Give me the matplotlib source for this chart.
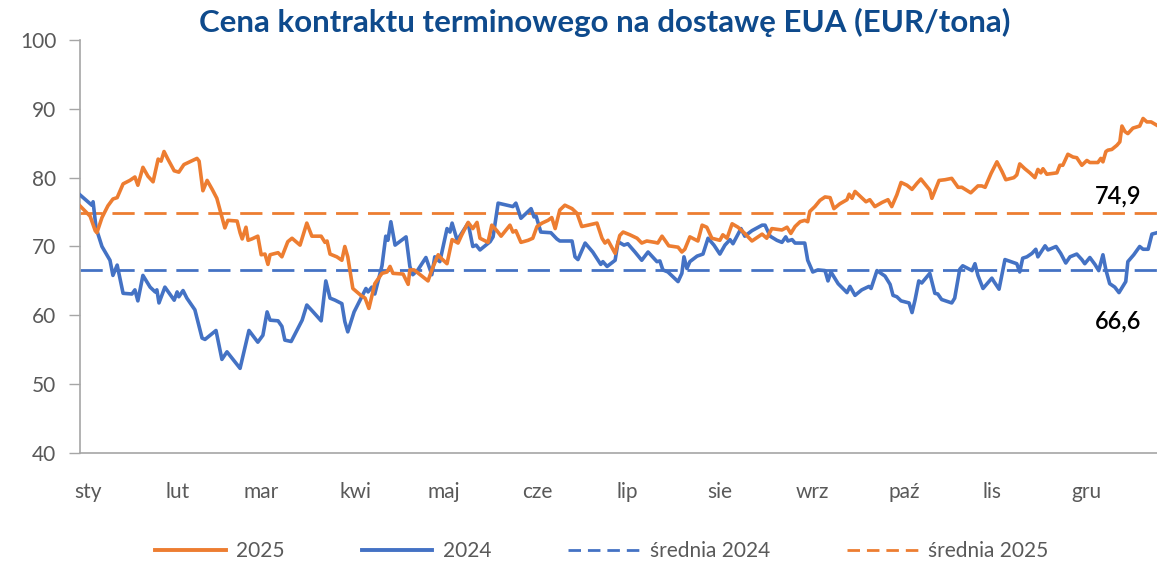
import matplotlib
matplotlib.use("Agg")
import matplotlib.pyplot as plt
from matplotlib.lines import Line2D

# ---------------- data (trading-day index, EUR/t) ----------------
x2025 = [0.0, 2.4, 3.6, 4.0, 5.2, 6.6, 7.8, 8.8, 9.5, 10.2, 11.8, 13.0, 13.7, 14.9, 16.1, 17.3,
         18.5, 19.2, 19.9, 20.8, 22.3, 23.4, 24.6, 26.3, 27.7, 28.2, 29.1, 30.1, 31.3, 32.4, 33.1,
         34.3, 35.0, 37.2, 37.9, 38.4, 39.3, 39.8, 40.7, 42.1, 42.9, 43.8, 44.5, 45.0, 46.9, 47.8,
         49.2, 50.2, 52.1, 53.7, 54.9, 57.1, 58.0, 58.5, 59.2, 60.8, 62.0, 62.7, 63.4, 64.6, 66.5,
         67.5, 68.4, 69.8, 71.5, 72.7, 73.4, 74.1, 76.5, 77.7, 78.1, 79.1, 82.4, 83.3, 84.8, 85.5,
         86.9, 88.1, 89.5, 90.4, 91.9, 93.0, 94.0, 94.7, 96.6, 97.5, 98.7, 99.7, 101.8, 102.5, 103.2,
         104.4, 106.1, 107.2, 108.2, 109.4, 110.8, 111.7, 112.5, 113.6, 114.8, 116.5, 117.7, 118.8,
         120.3, 122.4, 123.6, 124.3, 125.0, 126.7, 127.8, 128.6, 130.2, 131.9, 133.0, 134.2, 136.1,
         136.8, 137.8, 138.5, 139.4, 141.6, 142.5, 143.2, 144.4, 146.3, 147.3, 148.4, 149.6, 151.5,
         152.2, 153.2, 154.4, 155.8, 157.4, 159.1, 161.5, 162.6, 163.8, 166.2, 167.4, 168.3, 169.3,
         170.5, 171.6, 172.3, 172.8, 174.0, 175.2, 176.4, 177.6, 178.5, 179.9, 181.6, 182.1, 182.8,
         183.5, 184.7, 186.1, 187.0, 188.2, 189.9, 191.3, 192.2, 193.4, 194.4, 195.8, 197.0, 198.2,
         199.1, 200.3, 201.2, 201.7, 203.4, 204.8, 206.4, 207.9, 208.8, 210.9, 212.6, 213.5, 214.3,
         215.7, 217.1, 218.3, 219.2, 221.1, 221.8, 222.5, 223.7, 224.9, 226.1, 226.8, 227.5, 228.0,
         228.9, 231.3, 232.0, 232.7, 233.9, 235.1, 236.0, 237.2, 238.4, 239.1, 241.0, 241.7, 242.2,
         242.9, 243.4, 244.3, 245.5, 246.2, 246.7, 247.4, 248.1, 249.3, 250.9, 251.7, 252.6, 253.6,
         255.0]
y2025 = [75.9, 74.4, 72.3, 72.0, 74.2, 75.9, 76.9, 77.1, 78.1, 79.1, 79.6, 80.1, 78.9, 81.5, 80.2, 79.4,
         82.7, 82.4, 83.8, 82.7, 81.0, 80.8, 81.9, 82.4, 82.8, 82.4, 78.1, 79.6, 78.3, 77.0, 75.4,
         72.7, 73.8, 73.7, 72.0, 71.1, 72.8, 70.9, 71.1, 71.5, 68.8, 68.9, 67.4, 68.8, 69.1, 68.5,
         70.7, 71.2, 70.2, 73.4, 71.5, 71.5, 70.6, 70.8, 68.9, 68.5, 68.0, 70.0, 68.5, 63.9, 62.9,
         62.5, 61.0, 64.6, 66.1, 66.3, 67.1, 66.1, 66.0, 64.5, 66.6, 66.6, 65.0, 66.6, 68.8, 68.3,
         67.5, 71.0, 70.5, 71.7, 73.5, 72.6, 73.5, 71.2, 70.6, 73.1, 72.3, 71.5, 73.1, 72.1, 72.3,
         70.6, 70.9, 71.2, 72.9, 73.4, 73.8, 74.2, 72.6, 75.3, 76.0, 75.5, 74.8, 72.9,
         73.1, 73.4, 71.2, 70.5, 70.9, 69.0, 71.6, 72.1, 71.7, 71.2, 70.5, 70.8, 70.6,
         70.5, 71.5, 70.9, 70.1, 69.9, 69.2, 69.6, 71.4, 70.8, 73.1, 72.8, 71.2, 70.9,
         71.7, 71.2, 73.3, 72.8, 71.9, 70.8, 71.8, 71.2, 72.6, 72.4, 72.8, 71.9, 72.9,
         73.6, 73.8, 73.6, 75.1, 75.8, 76.7, 77.2, 77.1, 75.5, 76.2, 76.8, 77.6, 77.0,
         78.0, 77.3, 76.5, 76.8, 75.8, 76.4, 76.8, 75.8, 77.5, 79.3, 78.9, 78.3, 79.2,
         79.8, 78.9, 78.2, 77.0, 79.6, 79.7, 79.9, 78.6, 78.6, 77.8, 78.8, 78.8, 78.6,
         80.6, 82.3, 80.9, 79.7, 80.0, 80.4, 82.0, 81.3, 80.7, 80.0, 81.2, 80.7, 81.3,
         80.5, 80.7, 81.8, 81.8, 83.4, 83.0, 82.9, 81.8, 82.5, 82.2, 82.2, 82.8, 82.3,
         83.8, 84.0, 84.1, 84.7, 85.2, 87.5, 86.7, 86.4, 87.2, 87.5, 88.6, 88.1, 88.1,
         87.6]

x2024 = [0.0, 2.8, 3.1, 3.8, 5.2, 7.1, 7.8, 8.8, 10.2, 12.3, 13.0, 13.7, 14.9, 16.6, 17.8, 18.2,
         18.7, 20.1, 22.3, 23.0, 23.4, 24.4, 25.3, 27.2, 28.9, 29.6, 32.2, 33.6, 34.8, 37.9, 40.0,
         42.1, 43.3, 44.3, 45.0, 46.9, 47.8, 48.5, 50.0, 52.6, 53.7, 55.2, 57.1, 58.2, 59.2, 60.4,
         62.0, 62.7, 63.4, 64.9, 66.3, 67.7, 68.2, 69.1, 69.8, 71.5, 72.4, 72.9, 73.6, 74.6, 77.2,
         78.1, 78.8, 80.0, 81.9, 83.3, 84.0, 84.8, 85.2, 86.9, 87.6, 88.1, 89.3, 91.9, 93.0, 93.8,
         94.7, 97.1, 97.8, 99.0, 102.5, 103.2, 104.4, 105.6, 106.8, 107.5, 108.0, 109.1, 111.5,
         112.9, 113.6, 116.5, 117.2, 117.9, 119.6, 121.4, 123.3, 123.8, 124.8, 126.7, 127.4, 128.8,
         129.7, 131.4, 133.0, 134.5, 136.6, 137.3, 138.0, 139.2, 140.4, 141.6, 142.5, 143.0, 143.7,
         144.4, 146.1, 147.5, 148.7, 150.1, 151.5, 152.7, 153.9, 154.6, 156.5, 157.4, 159.1, 161.5,
         162.2, 163.4, 165.0, 166.2, 167.1, 167.6, 168.6, 169.3, 171.6, 172.3, 173.5, 174.7, 176.4,
         177.1, 177.8, 179.5, 181.6, 182.3, 183.5, 185.1, 186.8, 187.3, 188.7, 190.6, 191.8, 192.5,
         193.4, 194.4, 196.3, 197.0, 197.7, 198.6, 199.3, 201.2, 202.4, 203.1, 204.0, 206.4, 207.1,
         208.3, 209.0, 211.2, 211.9, 212.6, 213.8, 215.9, 216.4, 217.6, 219.0, 221.8, 222.5, 223.2,
         224.2, 225.4, 226.3, 226.8, 228.5, 229.2, 231.1, 232.2, 233.4, 234.4, 236.0, 237.2, 237.9,
         239.1, 240.3, 241.2, 242.2, 242.9, 243.8, 245.0, 246.0, 247.6, 248.1, 249.5, 250.9, 251.7,
         252.9, 253.8, 255.0]
y2024 = [77.5, 76.0, 76.5, 72.7, 70.0, 68.0, 65.8, 67.3, 63.2, 63.1, 63.7, 62.1, 65.8, 64.1, 63.4, 63.7,
         61.8, 64.1, 62.2, 63.4, 62.7, 63.6, 62.5, 60.8, 56.7, 56.5, 57.8, 53.6, 54.7, 52.3, 57.8,
         56.1, 57.1, 60.5, 59.3, 59.2, 58.4, 56.4, 56.2, 59.3, 61.5, 60.5, 59.2, 65.0, 62.5, 62.2,
         61.7, 59.1, 57.6, 60.5, 62.2, 63.9, 63.4, 64.1, 63.1, 67.2, 71.5, 70.9, 73.6, 70.2, 71.4,
         67.1, 65.9, 66.6, 68.4, 65.9, 68.5, 68.0, 67.8, 72.6, 72.1, 73.4, 70.9, 73.4, 70.0, 70.2,
         69.5, 70.7, 71.4, 76.3, 75.8, 76.3, 74.1, 74.8, 75.5, 74.3, 74.4, 72.1, 72.0,
         71.1, 70.8, 70.8, 68.5, 68.1, 70.5, 69.2, 67.4, 67.8, 67.1, 68.0, 70.7, 70.2,
         70.4, 69.2, 68.0, 69.2, 67.8, 67.9, 66.6, 66.3, 65.6, 64.9, 66.1, 68.5, 66.8,
         67.8, 68.6, 68.9, 71.2, 70.2, 68.9, 70.2, 71.0, 70.4, 72.6, 71.5, 72.3, 73.1,
         73.1, 71.5, 70.9, 70.6, 71.4, 70.8, 71.0, 70.5, 70.5, 68.0, 66.3, 66.6, 66.5,
         65.0, 66.3, 64.6, 63.3, 64.2, 62.9, 63.7, 64.2, 63.9, 66.5, 65.7, 64.5, 62.9,
         62.7, 62.1, 61.8, 60.4, 62.2, 65.0, 64.7, 66.1, 63.2, 63.1, 62.3, 61.8, 62.5,
         66.7, 67.2, 66.5, 67.5, 65.8, 63.9, 65.4, 64.9, 63.8, 68.1, 67.5, 66.3, 68.3,
         68.5, 69.0, 69.6, 68.5, 70.1, 69.5, 70.0, 69.0, 67.6, 68.5, 68.9, 68.1, 67.5,
         68.4, 67.4, 66.5, 68.8, 66.6, 64.6, 64.1, 63.3, 64.9, 67.8, 68.8, 70.0, 69.6,
         69.6, 71.8, 72.0]

avg2024 = 66.6
avg2025 = 74.9

months = ["sty", "lut", "mar", "kwi", "maj", "cze", "lip", "sie", "wrz", "paź", "lis", "gru"]
month_pos = [1.9, 23.2, 42.9, 65.1, 86.2, 108.2, 129.5, 151.5, 173.3, 195.1, 215.9, 238.4]

title = "Cena kontraktu terminowego na dostawę EUA (EUR/tona)"
labels = ["2025", "2024", "średnia 2024", "średnia 2025"]

# ---------------- style ----------------
ORANGE = "#ED7D31"
BLUE = "#4472C4"
GRAY = "#595959"
AXIS = "#A6A6A6"
FONT = ["Lato", "DejaVu Sans"]
plt.rcParams["font.family"] = FONT

fig = plt.figure(figsize=(11.57, 5.63), dpi=100)
ax = fig.add_axes([80 / 1157, 1 - 453 / 563, 1 - 80 / 1157, (453 - 40) / 563])

xmin, xmax = 0, 255
ax.plot(x2025, y2025, color=ORANGE, lw=2.6, solid_joinstyle="round", zorder=4)
ax.plot(x2024, y2024, color=BLUE, lw=2.6, solid_joinstyle="round", zorder=3)
ax.plot([xmin, xmax], [avg2024, avg2024], color=BLUE, lw=2.0, dashes=(8, 3.5), zorder=2)
ax.plot([xmin, xmax], [avg2025, avg2025], color=ORANGE, lw=2.0, dashes=(8, 3.5), zorder=2)

ax.set_xlim(xmin, xmax)
ax.set_ylim(40, 100)
ax.set_yticks(range(40, 101, 10))
ax.tick_params(axis="y", length=8, width=1, color=AXIS, labelcolor=GRAY, labelsize=15, pad=9)
ax.set_xticks(month_pos)
ax.set_xticklabels(months)
ax.tick_params(axis="x", length=0, labelcolor=GRAY, labelsize=15, pad=21)

for s in ["top", "right"]:
    ax.spines[s].set_visible(False)
for s in ["left", "bottom"]:
    ax.spines[s].set_color(AXIS)
    ax.spines[s].set_linewidth(1.2)

ax.text(245.7, 77.3, f"{avg2025:.1f}".replace(".", ","), fontsize=17, color="black",
        ha="center", va="center", fontweight="semibold")
ax.text(245.7, 59.2, f"{avg2024:.1f}".replace(".", ","), fontsize=17, color="black",
        ha="center", va="center", fontweight="semibold")

fig.text(0.523, 0.961, title, fontsize=22.5, fontweight="bold", color="#0E4A8C",
         ha="center", va="center")

handles = [
    Line2D([], [], color=ORANGE, lw=2.8),
    Line2D([], [], color=BLUE, lw=2.8),
    Line2D([], [], color=BLUE, lw=2.0, dashes=(4.5, 2.5)),
    Line2D([], [], color=ORANGE, lw=2.0, dashes=(4.5, 2.5)),
]
fig.legend(handles, labels, loc="center", bbox_to_anchor=(0.52, 1 - 551 / 563), ncol=4,
           frameon=False, fontsize=15, handlelength=3.4, handletextpad=0.5,
           columnspacing=3.7, labelcolor=GRAY)

fig.savefig("out.png", dpi=100)
